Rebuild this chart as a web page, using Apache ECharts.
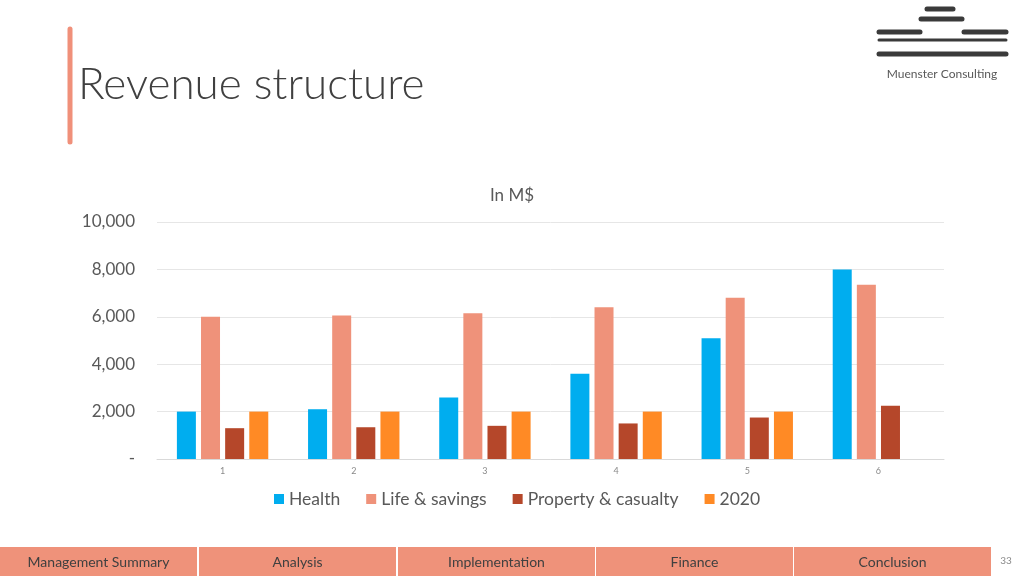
<!DOCTYPE html>
<html><head><meta charset="utf-8">
<script src="https://cdn.jsdelivr.net/npm/echarts@6/dist/echarts.min.js"></script>
<style>html,body{margin:0;padding:0;background:#fff}#c{width:1024px;height:576px}</style>
</head><body><div id="c"></div>
<script>
const categories = ['1','2','3','4','5','6'];
const health = [2000, 2100, 2600, 3600, 5100, 8000];
const lifeSavings = [6000, 6050, 6150, 6400, 6800, 7350];
const propertyCasualty = [1300, 1340, 1400, 1500, 1750, 2250];
const y2020 = [2000, 2000, 2000, 2000, 2000, null];
const seriesNames = ['Health', 'Life & savings', 'Property & casualty', '2020'];
const navTabs = ['Management Summary', 'Analysis', 'Implementation', 'Finance', 'Conclusion'];
const yTicks = {min: 0, max: 10000, interval: 2000};

const FONT = 'Lato, "Open Sans", sans-serif';
const colors = ['#00ADEF', '#EF927A', '#B5472A', '#FF8A25'];
const chart = echarts.init(document.getElementById('c'), null, {renderer: 'canvas'});

const logoLines = [
  [927, 9, 953, 9, 5], [921, 19, 962, 19, 5], [879, 32, 920, 32, 5], [964, 32, 1006, 32, 5],
  [879, 40, 1006, 40, 3], [879, 54, 1006, 54, 5]
];
const graphics = [
  {type: 'line', shape: {x1: 70, y1: 29, x2: 70, y2: 142}, style: {stroke: '#F0907A', lineWidth: 5, lineCap: 'round'}},
  {type: 'text', left: 78, top: 63, style: {text: 'Revenue structure', fill: '#404040', font: '300 44px ' + FONT}},
  {type: 'text', x: 942, y: 74, style: {text: 'Muenster Consulting', fill: '#595959', font: '12px ' + FONT, textAlign: 'center', textVerticalAlign: 'middle'}},
];
logoLines.forEach(l => graphics.push({type: 'line', shape: {x1: l[0], y1: l[1], x2: l[2], y2: l[3]}, style: {stroke: '#3A3A3A', lineWidth: l[4], lineCap: 'round'}}));
const tabX = [0, 199, 398, 596, 794];
navTabs.forEach((t, i) => {
  graphics.push({type: 'rect', shape: {x: tabX[i], y: 547, width: 197, height: 29}, style: {fill: '#EF927A'}});
  graphics.push({type: 'text', x: tabX[i] + 98.5, y: 562, style: {text: t, fill: '#404040', font: '14px ' + FONT, textAlign: 'center', textVerticalAlign: 'middle'}});
});
graphics.push({type: 'text', x: 1006, y: 561, style: {text: '33', fill: '#8A8A8A', font: '10px ' + FONT, textAlign: 'center', textVerticalAlign: 'middle'}});

const data = [health, lifeSavings, propertyCasualty, y2020];
chart.setOption({
  animation: false,
  color: colors,
  title: {text: 'In M$', left: 'center', top: 182, textStyle: {color: '#595959', fontSize: 17, fontWeight: 'normal', fontFamily: FONT}},
  legend: {data: seriesNames, left: 269, top: 485, itemWidth: 10, itemHeight: 10, itemGap: 26, icon: 'rect',
    textStyle: {color: '#595959', fontSize: 17.5, fontFamily: FONT}},
  grid: {left: 157, right: 80, top: 222, bottom: 117},
  xAxis: {type: 'category', data: categories,
    axisLine: {lineStyle: {color: '#D9D9D9'}}, axisTick: {show: false},
    axisLabel: {color: '#8A8A8A', fontSize: 9, fontFamily: FONT, margin: 8}},
  yAxis: {type: 'value', min: yTicks.min, max: yTicks.max, interval: yTicks.interval,
    axisLine: {show: false}, axisTick: {show: false},
    splitLine: {lineStyle: {color: '#E6E6E6'}},
    axisLabel: {color: '#595959', fontSize: 17, fontFamily: FONT, margin: 22,
      formatter: v => v === 0 ? '-' : v.toLocaleString('en-US')}},
  series: seriesNames.map((n, i) => ({name: n, type: 'bar', data: data[i], barWidth: 19, barGap: '27%'})),
  graphic: graphics
});
</script></body></html>
